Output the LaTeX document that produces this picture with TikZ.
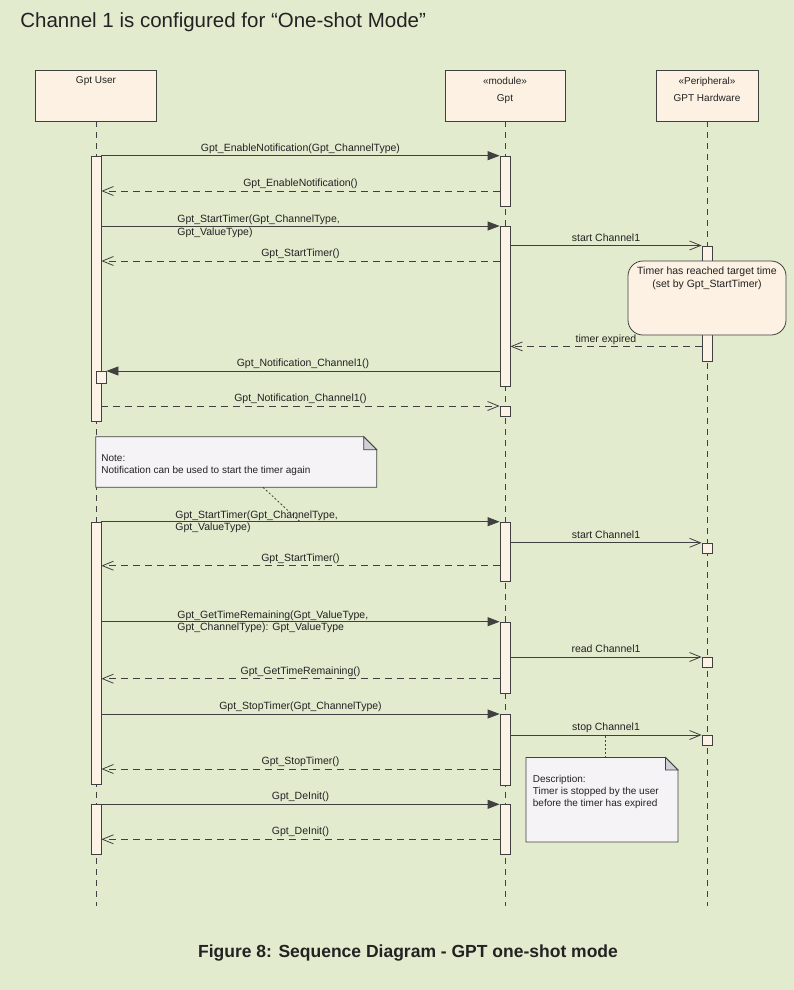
\documentclass[tikz,border=0pt]{standalone}
\usepackage{fontspec}
\setmainfont{Liberation Sans}
\usetikzlibrary{arrows.meta}

\definecolor{bgc}{RGB}{226,235,206}
\definecolor{headfill}{RGB}{252,241,226}
\definecolor{actfill}{RGB}{252,242,230}
\definecolor{notefill}{RGB}{246,243,247}
\definecolor{foldfill}{RGB}{208,208,216}
\definecolor{linec}{RGB}{64,64,64}
\definecolor{textc}{RGB}{34,34,34}

\newcommand\msgfont{\fontsize{10.5}{12.7}\selectfont}
\newcommand\notefont{\fontsize{10}{12}\selectfont}

\begin{document}
\begin{tikzpicture}[x=1pt,y=-1pt,line width=0.8pt,text=textc,font=\notefont,
	>/.tip={Triangle[length=12pt,width=9pt]},
	every edge/.style={draw=linec},
	head/.style={draw=linec,fill=headfill,minimum height=51pt,inner sep=0pt},
	act/.style={draw=linec,fill=actfill,minimum width=10pt,inner sep=0pt,anchor=north},
	life/.style={draw=linec,dash pattern=on 6pt off 5pt},
	call/.style={->},
	sig/.style={-{Straight Barb[length=11pt,width=9pt]}},
	reply/.style={dash pattern=on 7pt off 5pt,-{Straight Barb[length=11pt,width=9pt]}},
	lbl/.style={above,inner sep=1.5pt,text depth=2.5pt,font=\msgfont},
	lbltwo/.style={anchor=west,inner sep=0pt,align=left,font=\msgfont},
	note/.style={draw=linec,fill=notefill},
	fold/.style={draw=linec,fill=foldfill},
	attach/.style={draw=linec,dash pattern=on 2pt off 2pt}]
	\fill[bgc] (0,0) rectangle (794,990);
	\node (title) [anchor=west,inner sep=0pt,font=\fontsize{20.5}{24}\selectfont] at (20,22) {Channel 1 is configured for “One-shot Mode”};

	\draw (96,95.5) node (user) [head,minimum width=121pt] {};
	\node (userlbl) [below,inner sep=7pt] at (user.north) {Gpt User};
	\draw (505,95.5) node (gpt) [head,minimum width=120pt] {};
	\node (gptlbl) [below,inner sep=7.5pt,align=center,font=\fontsize{10}{16.5}\selectfont] at (gpt.north) {«module»\\Gpt};
	\draw (707,95.5) node (hw) [head,minimum width=102pt] {};
	\node (hwlbl) [below,inner sep=7.5pt,align=center,font=\fontsize{10}{16.5}\selectfont] at (hw.north) {«Peripheral»\\GPT Hardware};

	\coordinate (userend) at (96,906);
	\coordinate (gptend) at (505,906);
	\coordinate (hwend) at (707,906);
	\draw[life] (user) -- (userend);
	\draw[life] (gpt) -- (gptend);
	\draw[life] (hw) -- (hwend);

	\node (ua1) [act,minimum height=265pt] at (96,155.7) {};
	\node (ub) [act,minimum height=12pt] at (101,371) {};
	\node (ua2) [act,minimum height=262.5pt] at (96,521.7) {};
	\node (ua3) [act,minimum height=50pt] at (96,804.3) {};
	\node (ga1) [act,minimum height=50.3pt] at (505,155.7) {};
	\node (ga2) [act,minimum height=160pt] at (505,226) {};
	\node (gn) [act,minimum height=10pt] at (505,406) {};
	\node (ga3) [act,minimum height=59pt] at (505,521.7) {};
	\node (ga4) [act,minimum height=71.3pt] at (505,621.7) {};
	\node (ga5) [act,minimum height=71pt] at (505,714) {};
	\node (ga6) [act,minimum height=50pt] at (505,804.3) {};
	\node (ha1) [act,minimum height=115.5pt] at (707,245.5) {};
	\node (hb1) [act,minimum height=10pt] at (707,542.8) {};
	\node (hb2) [act,minimum height=10pt] at (707,657) {};
	\node (hb3) [act,minimum height=10pt] at (707,735) {};

	\node (tstate) [draw=linec,fill=headfill,rounded corners=15pt,minimum width=158pt,minimum height=74pt] at (707,298) {};
	\node (tstatelbl) [below,inner sep=6pt,align=center,font=\msgfont] at (tstate.north) {Timer has reached target time\\(set by Gpt\_StartTimer)};

	\path[call] (ua1.east |- ga1.north) edge node[lbl] {Gpt\_EnableNotification(Gpt\_ChannelType)} (ga1.north west);
	\path[reply] (ga1.west |- 0,191) edge node[lbl] {Gpt\_EnableNotification()} (ua1.east |- 0,191);
	\path[call] (ua1.east |- ga2.north) edge (ga2.north west);
	\node (lstart1) [lbltwo] at (177,226) {Gpt\_StartTimer(Gpt\_ChannelType,\\Gpt\_ValueType)};
	\path[sig] (ga2.east |- ha1.north) edge node[lbl] {start Channel1} (ha1.north west);
	\path[reply] (ga2.west |- 0,261) edge node[lbl] {Gpt\_StartTimer()} (ua1.east |- 0,261);
	\path[reply] (ha1.west |- 0,346.4) edge node[lbl] {timer expired} (ga2.east |- 0,346.4);
	\path[call] (ga2.west |- ub.north) edge node[lbl] {Gpt\_Notification\_Channel1()} (ub.north east);
	\path[reply] (ua1.east |- gn.north) edge node[lbl] {Gpt\_Notification\_Channel1()} (gn.north west);

	\path[call] (ua2.north east) edge (ga3.north west);
	\node (lstart2) [lbltwo] at (175,521.7) {Gpt\_StartTimer(Gpt\_ChannelType,\\Gpt\_ValueType)};
	\path[sig] (ga3.east |- hb1.north) edge node[lbl] {start Channel1} (hb1.north west);
	\path[reply] (ga3.west |- 0,565.7) edge node[lbl] {Gpt\_StartTimer()} (ua2.east |- 0,565.7);
	\path[call] (ua2.east |- ga4.north) edge (ga4.north west);
	\node (lremain) [lbltwo] at (177,621.7) {Gpt\_GetTimeRemaining(Gpt\_ValueType,\\Gpt\_ChannelType): Gpt\_ValueType};
	\path[sig] (ga4.east |- hb2.north) edge node[lbl] {read Channel1} (hb2.north west);
	\path[reply] (ga4.west |- 0,678.7) edge node[lbl] {Gpt\_GetTimeRemaining()} (ua2.east |- 0,678.7);
	\path[call] (ua2.east |- ga5.north) edge node[lbl] {Gpt\_StopTimer(Gpt\_ChannelType)} (ga5.north west);
	\path[sig] (ga5.east |- hb3.north) edge node[lbl] {stop Channel1} (hb3.north west);
	\path[reply] (ga5.west |- 0,769) edge node[lbl] {Gpt\_StopTimer()} (ua2.east |- 0,769);
	\path[call] (ua3.north east) edge node[lbl] {Gpt\_DeInit()} (ga6.north west);
	\path[reply] (ga6.west |- 0,839.3) edge node[lbl] {Gpt\_DeInit()} (ua3.east |- 0,839.3);

	\filldraw[note] (95.7,436.7) -- (363.7,436.7) -- (376.7,449.7) -- (376.7,487.3) -- (95.7,487.3) -- cycle;
	\filldraw[fold] (363.7,436.7) -- (376.7,449.7) -- (363.7,449.7) -- cycle;
	\node (note1) [anchor=north west,inner sep=0pt,align=left] at (101,454) {Note:\\Notification can be used to start the timer again};
	\coordinate (n1tip) at (263,487.3);
	\coordinate (n1msg) at (300,521.7);
	\draw[attach] (n1tip) -- (n1msg);

	\filldraw[note] (526,757.5) -- (665.5,757.5) -- (678,770) -- (678,842) -- (526,842) -- cycle;
	\filldraw[fold] (665.5,757.5) -- (678,770) -- (665.5,770) -- cycle;
	\node (note2) [anchor=north west,inner sep=0pt,align=left] at (532.5,775.3) {Description:\\Timer is stopped by the user\\before the timer has expired};
	\coordinate (n2tip) at (605,757.5);
	\coordinate (n2msg) at (605,735);
	\draw[attach] (n2tip) -- (n2msg);

	\node (caption) [font=\fontsize{17.5}{20}\selectfont\bfseries] at (408,953) {Figure 8: Sequence Diagram - GPT one-shot mode};
\end{tikzpicture}
\end{document}
